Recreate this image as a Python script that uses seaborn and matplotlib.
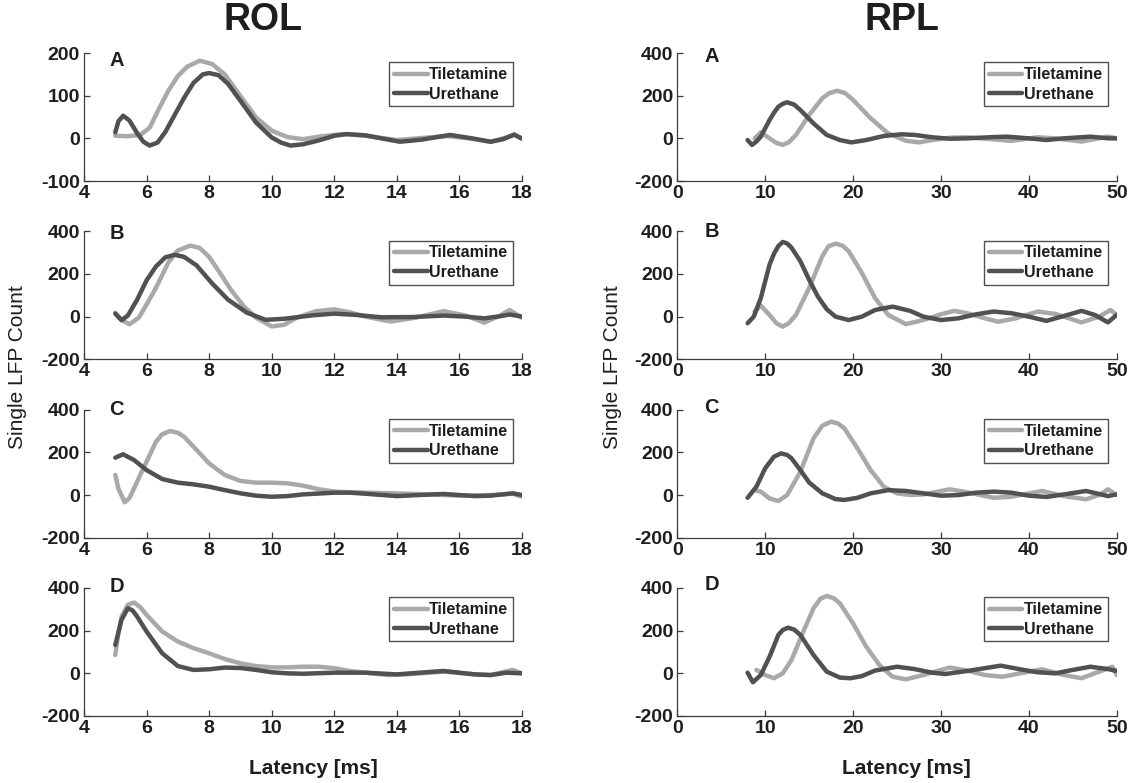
import matplotlib
matplotlib.use("Agg")
import matplotlib.pyplot as plt
from matplotlib.lines import Line2D
import pandas as pd
import seaborn as sns

# ---------------------------------------------------------------- data
agents = ["Tiletamine", "Urethane"]
panel_letters = ["A", "B", "C", "D"]
column_titles = ["ROL", "RPL"]

# ROL (latency 5-18 ms)
rol_a_tile_x = [5.0, 5.4, 5.8, 6.1, 6.4, 6.7, 7.0, 7.3, 7.7, 8.1, 8.5, 9.0, 9.5, 10.0, 10.5, 11.0, 11.6,
                12.3, 13.0, 14.0, 15.0, 15.6, 16.3, 17.0, 17.4, 17.75, 18.0]
rol_a_tile_y = [6, 5, 8, 25, 70, 112, 146, 168, 182, 174, 150, 99, 49, 18, 3, -2, 5,
                10, 6, -4, 2, 5, 0, -8, 0, 8, 0]
rol_a_ure_x = [5.0, 5.1, 5.25, 5.45, 5.7, 5.9, 6.1, 6.35, 6.6, 6.9, 7.2, 7.5, 7.8, 8.0, 8.3, 8.6, 9.0,
               9.5, 10.0, 10.3, 10.6, 11.0, 11.5, 12.0, 12.4, 13.0, 13.5, 14.1, 14.8, 15.7, 16.4,
               17.0, 17.4, 17.75, 18.0]
rol_a_ure_y = [14, 40, 53, 42, 12, -8, -17, -10, 15, 55, 95, 130, 150, 153, 148, 128, 88,
               37, 2, -10, -17, -14, -5, 6, 10, 7, 0, -8, -3, 8, 0,
               -8, -2, 9, -1]

rol_b_tile_x = [5.0, 5.2, 5.45, 5.75, 6.0, 6.3, 6.7, 7.0, 7.4, 7.7, 8.0, 8.3, 8.7, 9.1, 9.5, 10.0,
                10.4, 10.8, 11.4, 12.0, 12.5, 13.0, 13.8, 14.6, 15.5, 16.2, 16.8, 17.3, 17.6, 18.0]
rol_b_tile_y = [18, -15, -36, -5, 57, 135, 255, 310, 333, 322, 280, 215, 125, 50, -5, -46,
                -38, -5, 25, 34, 20, 0, -23, -5, 26, 5, -28, 5, 31, -5]
rol_b_ure_x = [5.0, 5.2, 5.4, 5.7, 6.0, 6.3, 6.6, 6.9, 7.2, 7.6, 8.1, 8.6, 9.2, 9.8, 10.4, 11.3,
               12.0, 12.7, 13.5, 14.5, 15.5, 16.2, 16.8, 17.3, 17.6, 18.0]
rol_b_ure_y = [14, -17, 5, 80, 170, 235, 278, 290, 280, 240, 155, 80, 19, -15, -10, 6,
               14, 8, -3, -2, 5, 0, -8, 2, 10, 0]

rol_c_tile_x = [5.0, 5.1, 5.3, 5.45, 5.6, 5.8, 6.0, 6.3, 6.5, 6.75, 7.0, 7.2, 7.6, 8.0, 8.5, 9.0,
                9.5, 10.0, 10.5, 11.0, 11.5, 12.0, 13.0, 14.0, 15.0, 16.0, 17.0, 17.7, 18.0]
rol_c_tile_y = [94, 30, -34, -15, 31, 95, 156, 250, 285, 300, 292, 273, 211, 148, 94, 66,
                58, 58, 55, 44, 27, 16, 11, 8, 3, -3, 0, 6, -8]
rol_c_ure_x = [5.0, 5.25, 5.6, 6.0, 6.5, 7.0, 7.5, 8.0, 8.5, 9.0, 9.5, 10.0, 10.5, 11.0, 12.0,
               12.5, 13.0, 14.0, 15.0, 15.5, 16.5, 17.0, 17.7, 18.0]
rol_c_ure_y = [175, 191, 164, 117, 75, 58, 50, 39, 23, 8, -3, -8, -5, 3, 11,
               11, 6, -5, 2, 5, -5, -3, 8, 0]

rol_d_tile_x = [5.0, 5.1, 5.2, 5.4, 5.6, 5.8, 6.0, 6.5, 7.0, 7.5, 8.0, 8.5, 9.0, 9.5, 10.0, 10.5,
                11.0, 11.5, 12.0, 12.5, 13.0, 13.7, 14.5, 15.5, 16.5, 17.0, 17.7, 18.0]
rol_d_tile_y = [86, 190, 266, 321, 332, 310, 274, 196, 149, 118, 94, 67, 47, 34, 28, 28,
                31, 31, 24, 11, 3, -8, -3, 8, -5, -8, 16, 0]
rol_d_ure_x = [5.0, 5.2, 5.4, 5.55, 5.7, 6.0, 6.5, 7.0, 7.5, 8.0, 8.5, 9.0, 9.5, 10.0, 10.5, 11.0,
               12.0, 13.0, 14.0, 15.0, 15.5, 16.5, 17.0, 17.5, 18.0]
rol_d_ure_y = [133, 251, 305, 295, 266, 196, 94, 34, 16, 19, 27, 25, 16, 5, 0, -2,
               3, 3, -5, 6, 11, -5, -8, 3, 0]

# RPL (latency 8-50 ms)
rpl_a_tile_x = [8.8, 9.5, 10.5, 11.3, 12.0, 12.7, 13.5, 15.0, 16.5, 17.3, 18.2, 19.1, 20.0, 22.0,
                24.0, 26.0, 27.5, 29.0, 31.0, 33.0, 36.0, 38.0, 41.0, 43.0, 46.0, 49.0, 50.0]
rpl_a_tile_y = [0, 28, 0, -22, -31, -18, 16, 109, 188, 212, 223, 212, 180, 94,
                23, -11, -19, -8, 3, 5, -5, -12, 5, 0, -15, 8, 0]
rpl_a_ure_x = [8.0, 8.5, 9.0, 9.5, 10.5, 11.0, 11.5, 12.0, 12.5, 13.3, 14.0, 15.5, 17.0, 18.5,
               19.8, 21.5, 23.5, 25.5, 27.0, 29.0, 31.0, 33.0, 36.0, 37.5, 40.0, 42.0, 44.0,
               47.0, 49.0, 50.0]
rpl_a_ure_y = [-8, -31, -15, 8, 86, 120, 148, 162, 169, 158, 133, 70, 16, -8,
               -19, -8, 11, 19, 16, 5, -2, 0, 6, 8, 0, -8, 0,
               8, 0, 0]

rpl_b_tile_x = [8.8, 9.5, 10.5, 11.3, 12.0, 12.7, 13.5, 15.0, 16.5, 17.2, 18.0, 18.8, 19.5, 21.0,
                22.5, 24.0, 26.0, 28.0, 30.0, 31.5, 33.0, 35.0, 36.5, 38.5, 41.0, 43.0, 46.0,
                48.0, 49.3, 50.0]
rpl_b_tile_y = [24, 52, 8, -32, -47, -30, 8, 134, 283, 330, 342, 333, 307, 205,
                87, 8, -35, -16, 11, 27, 16, -8, -24, -8, 24, 13, -27,
                0, 31, 8]
rpl_b_ure_x = [8.0, 8.7, 9.5, 10.5, 11.0, 11.5, 12.0, 12.5, 13.0, 14.0, 15.0, 16.0, 17.0, 18.0,
               19.5, 21.0, 22.5, 24.5, 26.5, 28.0, 30.0, 32.0, 34.0, 36.0, 38.0, 40.0, 42.0,
               44.0, 46.0, 47.5, 49.0, 50.0]
rpl_b_ure_y = [-31, 0, 87, 244, 295, 331, 350, 343, 323, 260, 173, 94, 35, 0,
               -16, 0, 31, 47, 27, 0, -16, -8, 11, 24, 16, 0, -20,
               3, 27, 8, -27, 8]

rpl_c_tile_x = [8.8, 9.5, 10.5, 11.5, 12.5, 14.0, 15.5, 16.5, 17.5, 18.3, 19.0, 20.5, 22.0, 23.5,
                25.0, 26.5, 28.0, 31.0, 33.0, 36.0, 38.0, 41.5, 44.0, 46.5, 48.0, 49.0, 50.0]
rpl_c_tile_y = [23, 16, -16, -28, 0, 109, 266, 325, 344, 335, 313, 219, 117, 39,
                8, 0, 3, 27, 13, -13, -8, 19, -5, -20, 0, 27, 0]
rpl_c_ure_x = [8.0, 9.0, 10.0, 11.0, 11.8, 12.5, 13.0, 14.0, 15.0, 16.5, 18.0, 19.0, 20.5, 22.0,
               24.0, 26.0, 28.0, 30.0, 32.0, 34.0, 36.0, 38.0, 40.0, 42.0, 44.0, 46.5, 48.0,
               49.0, 50.0]
rpl_c_ure_y = [-13, 39, 125, 180, 195, 188, 172, 117, 59, 8, -19, -23, -13, 8,
               23, 19, 8, -3, 0, 11, 16, 11, -3, -9, 3, 19, 5,
               -5, 3]

rpl_d_tile_x = [9.0, 10.0, 11.0, 12.0, 13.0, 14.5, 15.5, 16.3, 17.0, 17.8, 18.5, 20.0, 21.5, 23.0,
                24.5, 26.0, 28.0, 30.0, 31.0, 33.0, 35.0, 37.0, 39.0, 41.5, 44.0, 46.0, 48.0,
                49.5, 50.0]
rpl_d_tile_y = [16, -8, -23, 0, 63, 211, 305, 350, 363, 352, 328, 234, 125, 39,
                -16, -28, -8, 16, 27, 13, -8, -16, 0, 19, -8, -23, 8,
                31, -8]
rpl_d_ure_x = [8.0, 8.6, 9.5, 10.5, 11.5, 12.0, 12.6, 13.3, 14.0, 15.5, 17.0, 18.5, 19.7, 21.0,
               22.5, 25.0, 27.0, 29.0, 30.5, 33.0, 36.8, 39.0, 41.0, 43.0, 45.0, 47.0, 49.0,
               50.0]
rpl_d_ure_y = [3, -42, -8, 78, 180, 203, 214, 205, 180, 86, 8, -20, -23, -13,
               13, 31, 20, 3, -3, 11, 36, 19, 5, 0, 16, 31, 20,
               11]

rol_xticks = [4, 6, 8, 10, 12, 14, 16, 18]
rpl_xticks = [0, 10, 20, 30, 40, 50]
rol_a_yticks = [-100, 0, 100, 200]
std_yticks = [-200, 0, 200, 400]

# --------------------------------------------------------------- style
sns.set_theme(style="ticks")
plt.rcParams["font.family"] = ["Liberation Sans", "DejaVu Sans"]
plt.rcParams["font.weight"] = "bold"
plt.rcParams["axes.unicode_minus"] = False

palette = {"Tiletamine": "#a9a9a9", "Urethane": "#515151"}
ink = "#1e1e1e"
line_w = 3.2

fig = plt.figure(figsize=(11.44, 7.83), dpi=100)

col_left = [84 / 1144, 677.3 / 1144]
col_width = [438 / 1144, 439.4 / 1144]
row_bottom = [1 - 181 / 783, 1 - 359.3 / 783, 1 - 537.7 / 783, 1 - 716 / 783]
row_height = 128 / 783

columns = [
    [(rol_a_tile_x, rol_a_tile_y, rol_a_ure_x, rol_a_ure_y),
     (rol_b_tile_x, rol_b_tile_y, rol_b_ure_x, rol_b_ure_y),
     (rol_c_tile_x, rol_c_tile_y, rol_c_ure_x, rol_c_ure_y),
     (rol_d_tile_x, rol_d_tile_y, rol_d_ure_x, rol_d_ure_y)],
    [(rpl_a_tile_x, rpl_a_tile_y, rpl_a_ure_x, rpl_a_ure_y),
     (rpl_b_tile_x, rpl_b_tile_y, rpl_b_ure_x, rpl_b_ure_y),
     (rpl_c_tile_x, rpl_c_tile_y, rpl_c_ure_x, rpl_c_ure_y),
     (rpl_d_tile_x, rpl_d_tile_y, rpl_d_ure_x, rpl_d_ure_y)],
]
letter_pos = [[(0.075, 0.94), (0.075, 0.98), (0.075, 1.0), (0.075, 1.01)],
              [(0.078, 0.97), (0.078, 0.997), (0.078, 1.02), (0.078, 1.025)]]

legend_handles = [Line2D([], [], color=palette[a], lw=line_w) for a in agents]

for c, col in enumerate(columns):
    for r, (tx, ty, ux, uy) in enumerate(col):
        ax = fig.add_axes([col_left[c], row_bottom[r], col_width[c], row_height])
        df = pd.concat([
            pd.DataFrame({"Latency": tx, "Count": ty, "Agent": "Tiletamine"}),
            pd.DataFrame({"Latency": ux, "Count": uy, "Agent": "Urethane"}),
        ], ignore_index=True)
        sns.lineplot(data=df, x="Latency", y="Count", hue="Agent", hue_order=agents,
                     palette=palette, estimator=None, sort=False, linewidth=line_w,
                     legend=False, ax=ax)
        for ln in ax.lines:
            ln.set_solid_capstyle("round")
            ln.set_solid_joinstyle("round")

        if c == 0:
            ax.set_xlim(4, 18)
            ax.set_xticks(rol_xticks)
        else:
            ax.set_xlim(0, 50)
            ax.set_xticks(rpl_xticks)
        if c == 0 and r == 0:
            ax.set_ylim(-100, 200)
            ax.set_yticks(rol_a_yticks)
        else:
            ax.set_ylim(-200, 400)
            ax.set_yticks(std_yticks)

        ax.set_xlabel("")
        ax.set_ylabel("")
        sns.despine(ax=ax)
        for s in ("left", "bottom"):
            ax.spines[s].set_color("#3c3c3c")
            ax.spines[s].set_linewidth(0.9)
        ax.tick_params(direction="in", length=4, width=0.9, color="#3c3c3c",
                       labelsize=14, labelcolor=ink, pad=3)
        ax.patch.set_alpha(0)

        lx, ly = letter_pos[c][r]
        ax.text(lx, ly, panel_letters[r], transform=ax.transAxes, ha="center", va="center",
                fontsize=14.5, fontweight="bold", color=ink)

        leg = ax.legend(legend_handles, agents, loc="upper right",
                        bbox_to_anchor=(0.98, 0.927), borderaxespad=0, frameon=True,
                        fancybox=False, framealpha=1, edgecolor="#505050",
                        fontsize=11.5, handlelength=2.1, handletextpad=0.1,
                        labelspacing=0.28, borderpad=0.3)
        leg.get_frame().set_linewidth(1.0)
        for t in leg.get_texts():
            t.set_fontweight("bold")
            t.set_color(ink)

# column titles and shared axis labels
fig.text(263 / 1144, 1 - 20 / 783, column_titles[0], ha="center", va="center",
         fontsize=27, fontweight="bold", color=ink)
fig.text(902 / 1144, 1 - 20 / 783, column_titles[1], ha="center", va="center",
         fontsize=27, fontweight="bold", color=ink)
for xc in (18 / 1144, 612 / 1144):
    fig.text(xc, 1 - 367 / 783, "Single LFP Count", rotation=90, ha="center", va="center",
             fontsize=15, fontweight="normal", color=ink)
for xc in (313 / 1144, 906 / 1144):
    fig.text(xc, 1 - 768 / 783, "Latency [ms]", ha="center", va="center",
             fontsize=15, fontweight="bold", color=ink)

fig.savefig("out.png", dpi=100, facecolor="white")
